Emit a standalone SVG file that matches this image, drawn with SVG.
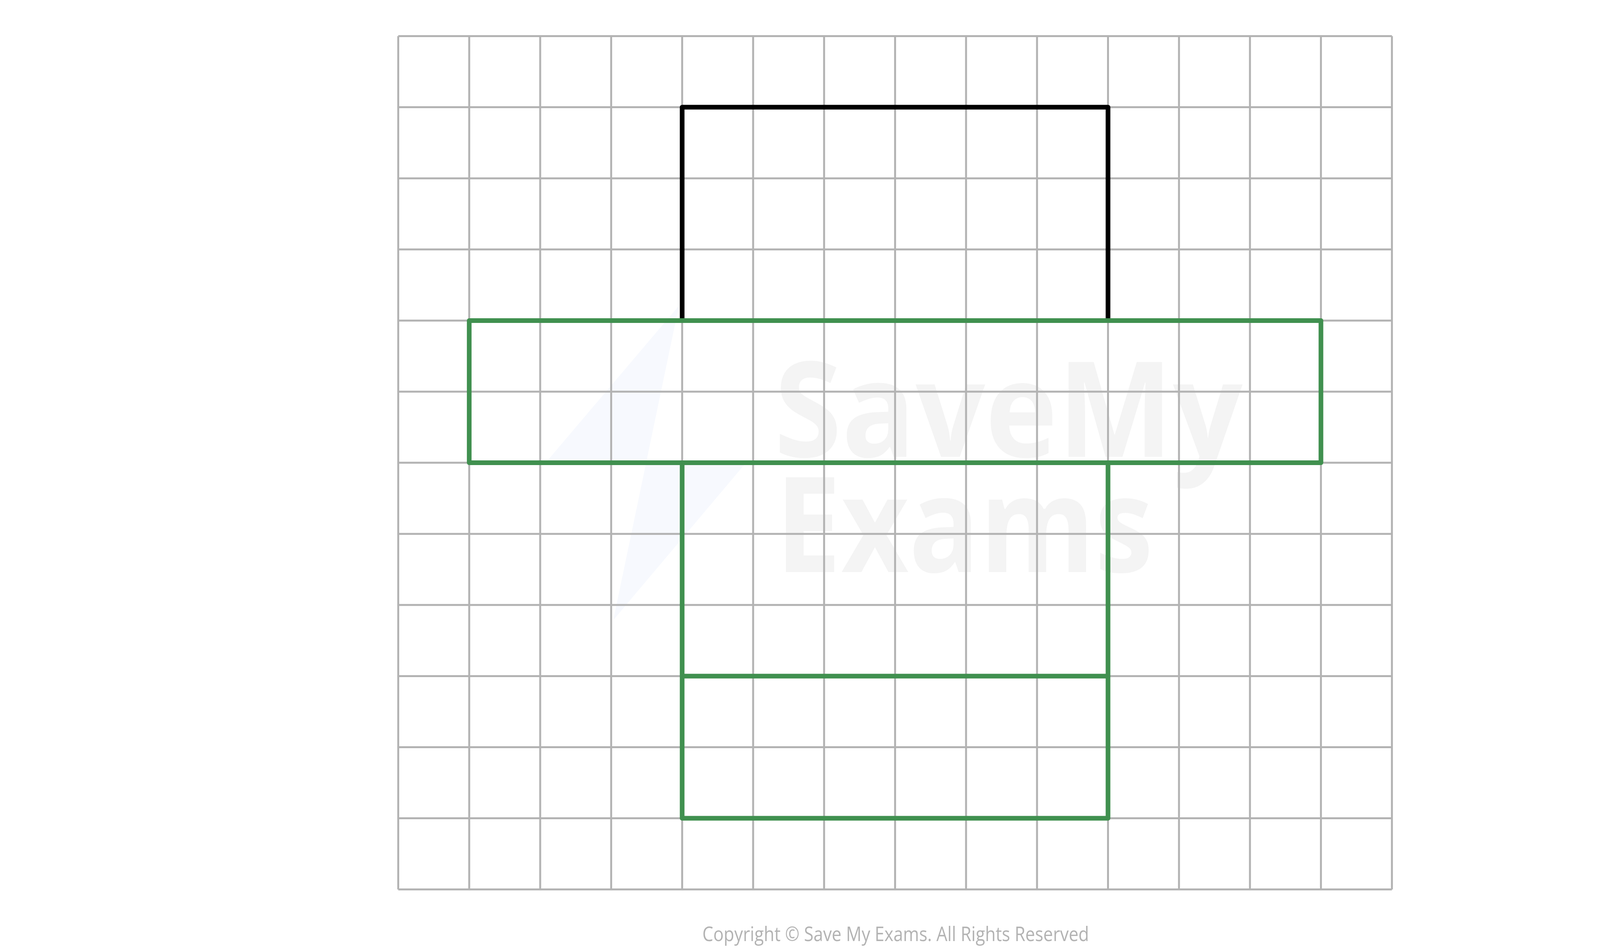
<svg xmlns="http://www.w3.org/2000/svg" width="4584" height="2438" viewBox="0 0 4584 2438">
<style>
.grid line{stroke:#b3b3b3;stroke-width:5}
.black{fill:none;stroke:#000000;stroke-width:12;stroke-linejoin:round;stroke-linecap:square}
.green{fill:none;stroke:#40904f;stroke-width:12;stroke-linejoin:round}
.wm{font-family:"Open Sans","Liberation Sans",sans-serif;font-weight:bold;font-size:340px;fill:#f4f4f4}
.copy{font-family:"Open Sans","Liberation Sans",sans-serif;font-size:52px;fill:#b3b3b3}
</style>
<rect width="4584" height="2438" fill="#ffffff"/>
<g id="watermark">
<polygon points="1738,783 1396,1186 1909,1186 1570,1588" fill="#f7f9fe"/>
<text class="wm" x="1982" y="1170" textLength="1199" lengthAdjust="spacingAndGlyphs">SaveMy</text>
<text class="wm" x="1985" y="1465" textLength="967" lengthAdjust="spacingAndGlyphs">Exams</text>
</g>
<g id="grid" class="grid">
<line x1="1019.5" y1="92.5" x2="1019.5" y2="2277.7"/>
<line x1="1201.2" y1="92.5" x2="1201.2" y2="2277.7"/>
<line x1="1382.9" y1="92.5" x2="1382.9" y2="2277.7"/>
<line x1="1564.6" y1="92.5" x2="1564.6" y2="2277.7"/>
<line x1="1746.3" y1="92.5" x2="1746.3" y2="2277.7"/>
<line x1="1928" y1="92.5" x2="1928" y2="2277.7"/>
<line x1="2109.7" y1="92.5" x2="2109.7" y2="2277.7"/>
<line x1="2291.4" y1="92.5" x2="2291.4" y2="2277.7"/>
<line x1="2473.1" y1="92.5" x2="2473.1" y2="2277.7"/>
<line x1="2654.8" y1="92.5" x2="2654.8" y2="2277.7"/>
<line x1="2836.5" y1="92.5" x2="2836.5" y2="2277.7"/>
<line x1="3018.2" y1="92.5" x2="3018.2" y2="2277.7"/>
<line x1="3199.9" y1="92.5" x2="3199.9" y2="2277.7"/>
<line x1="3381.6" y1="92.5" x2="3381.6" y2="2277.7"/>
<line x1="3563.3" y1="92.5" x2="3563.3" y2="2277.7"/>
<line x1="1019.5" y1="92.5" x2="3563.3" y2="92.5"/>
<line x1="1019.5" y1="274.6" x2="3563.3" y2="274.6"/>
<line x1="1019.5" y1="456.7" x2="3563.3" y2="456.7"/>
<line x1="1019.5" y1="638.8" x2="3563.3" y2="638.8"/>
<line x1="1019.5" y1="820.9" x2="3563.3" y2="820.9"/>
<line x1="1019.5" y1="1003" x2="3563.3" y2="1003"/>
<line x1="1019.5" y1="1185.1" x2="3563.3" y2="1185.1"/>
<line x1="1019.5" y1="1367.2" x2="3563.3" y2="1367.2"/>
<line x1="1019.5" y1="1549.3" x2="3563.3" y2="1549.3"/>
<line x1="1019.5" y1="1731.4" x2="3563.3" y2="1731.4"/>
<line x1="1019.5" y1="1913.5" x2="3563.3" y2="1913.5"/>
<line x1="1019.5" y1="2095.6" x2="3563.3" y2="2095.6"/>
<line x1="1019.5" y1="2277.7" x2="3563.3" y2="2277.7"/>
</g>
<g id="black-face">
<path class="black" d="M1746.3,820.9 V274.6 H2836.5 V820.9"/>
</g>
<g id="green-band">
<rect class="green" x="1201.2" y="820.9" width="2180.4" height="364.2"/>
</g>
<g id="green-face-lower">
<path class="green" d="M1746.3,1185.1 V2095.6 H2836.5 V1185.1"/>
</g>
<g id="green-divider">
<line class="green" x1="1746.3" y1="1731.4" x2="2836.5" y2="1731.4"/>
</g>
<text class="copy" x="1798" y="2410" textLength="990" lengthAdjust="spacingAndGlyphs">Copyright © Save My Exams. All Rights Reserved</text>
</svg>
